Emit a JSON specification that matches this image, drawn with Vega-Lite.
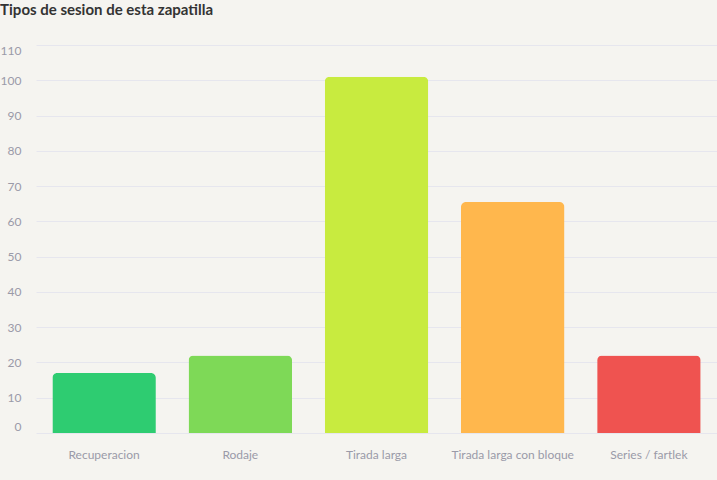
{
  "$schema": "https://vega.github.io/schema/vega-lite/v6.json",
  "autosize": {"type": "fit", "contains": "padding"},
  "width": 717,
  "height": 480,
  "padding": {"left": 0, "top": 3, "right": 0, "bottom": 20},
  "background": "#f5f4f0",
  "title": {
    "text": "Tipos de sesion de esta zapatilla",
    "anchor": "start",
    "frame": "bounds",
    "font": "Lato",
    "fontSize": 15,
    "fontWeight": "bold",
    "color": "#333333",
    "offset": 26
  },
  "config": {
    "view": {"stroke": null},
    "font": "Lato"
  },
  "data": {
    "values": [
      {"tipo": "Recuperacion", "sesiones": 17, "color": "#2ecc71"},
      {"tipo": "Rodaje", "sesiones": 22, "color": "#7ed957"},
      {"tipo": "Tirada larga", "sesiones": 101, "color": "#c8eb3f"},
      {"tipo": "Tirada larga con bloque", "sesiones": 65.5, "color": "#ffb74d"},
      {"tipo": "Series / fartlek", "sesiones": 22, "color": "#ef5350"}
    ]
  },
  "mark": {
    "type": "bar",
    "cornerRadiusTopLeft": 5,
    "cornerRadiusTopRight": 5,
    "tooltip": true
  },
  "encoding": {
    "x": {
      "field": "tipo",
      "type": "nominal",
      "sort": null,
      "scale": {"paddingInner": 0.24, "paddingOuter": 0.12},
      "axis": {
        "title": null,
        "labelAngle": 0,
        "labelColor": "#9a9aa8",
        "labelFontSize": 12,
        "labelPadding": 16,
        "domain": false,
        "ticks": false
      }
    },
    "y": {
      "field": "sesiones",
      "type": "quantitative",
      "scale": {"domain": [0, 110], "nice": false},
      "axis": {
        "title": null,
        "values": [0, 10, 20, 30, 40, 50, 60, 70, 80, 90, 100, 110],
        "labelColor": "#9a9aa8",
        "labelFontSize": 12,
        "labelPadding": 15,
        "labelFlush": true,
        "domain": false,
        "ticks": false,
        "gridColor": "#e6e6ee",
        "gridWidth": 1
      }
    },
    "color": {"field": "color", "type": "nominal", "scale": null, "legend": null}
  }
}
